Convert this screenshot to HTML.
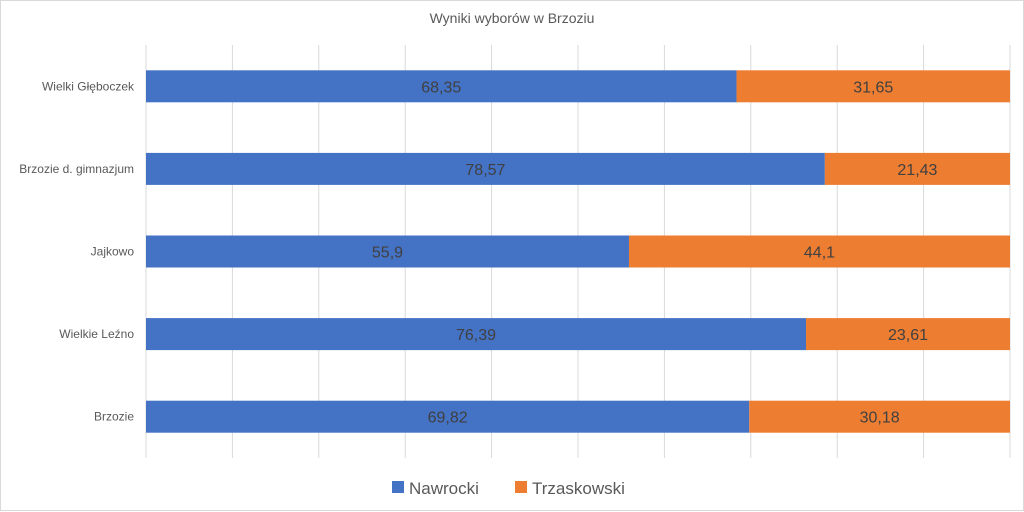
<!DOCTYPE html>
<html><head><meta charset="utf-8"><style>
body{margin:0;background:#fff}
svg{display:block;font-family:"Liberation Sans",sans-serif}
</style></head><body>
<svg id="c" width="1024" height="512">
<rect x="0.5" y="0.5" width="1023" height="510" fill="#fff" stroke="#d9d9d9"/>
<text x="512" y="23" text-anchor="middle" font-size="14" fill="#595959">Wyniki wyborów w Brzoziu</text>
<g id="grid"></g><g id="bars"></g><g id="labels"></g>
<g>
<rect x="392" y="481" width="12" height="12" fill="#4472c4"/>
<text x="409" y="494" font-size="17" fill="#595959">Nawrocki</text>
<rect x="515" y="481" width="12" height="12" fill="#ed7d31"/>
<text x="532" y="494" font-size="17" fill="#595959">Trzaskowski</text>
</g>
</svg>
<script>
const categories=["Wielki Głęboczek","Brzozie d. gimnazjum","Jajkowo","Wielkie Leźno","Brzozie"];
const nawrocki=[68.35,78.57,55.9,76.39,69.82];
const trzaskowski=[31.65,21.43,44.1,23.61,30.18];
const nLabels=["68,35","78,57","55,9","76,39","69,82"];
const tLabels=["31,65","21,43","44,1","23,61","30,18"];
const NS="http://www.w3.org/2000/svg";
const x0=146,x1=1010,yTop=45,yBot=458;
const band=(yBot-yTop)/categories.length;
const xs=v=>x0+(x1-x0)*v/100;
const yc=i=>yTop+band*(i+0.5);
function mk(t,a,p){const e=document.createElementNS(NS,t);for(const k in a)e.setAttribute(k,a[k]);p.appendChild(e);return e;}
const g=document.getElementById('grid'),b=document.getElementById('bars'),l=document.getElementById('labels');
for(let k=0;k<=10;k++){
const ln=mk('line',{x1:xs(k*10),x2:xs(k*10),y1:yTop,y2:yBot,stroke:'#d9d9d9','stroke-width':1},g);


}
categories.forEach((c,i)=>{
const y=yc(i),h=32;
const tot=nawrocki[i]+trzaskowski[i];
const n=nawrocki[i]/tot*100;
const r1=mk('rect',{x:xs(0),y:y-h/2,width:xs(n)-xs(0),height:h,fill:'#4472c4'},b);


const r2=mk('rect',{x:xs(n),y:y-h/2,width:xs(100)-xs(n),height:h,fill:'#ed7d31'},b);


const t1=mk('text',{x:(xs(0)+xs(n))/2,y:y+6,'text-anchor':'middle','font-size':16,fill:'#404040'},l);
t1.textContent=nLabels[i];


const t2=mk('text',{x:(xs(n)+xs(100))/2,y:y+6,'text-anchor':'middle','font-size':16,fill:'#404040'},l);
t2.textContent=tLabels[i];


const t3=mk('text',{x:134,y:y+4,'text-anchor':'end','font-size':12,fill:'#595959'},l);
t3.textContent=c;


});
</script>
</body></html>
